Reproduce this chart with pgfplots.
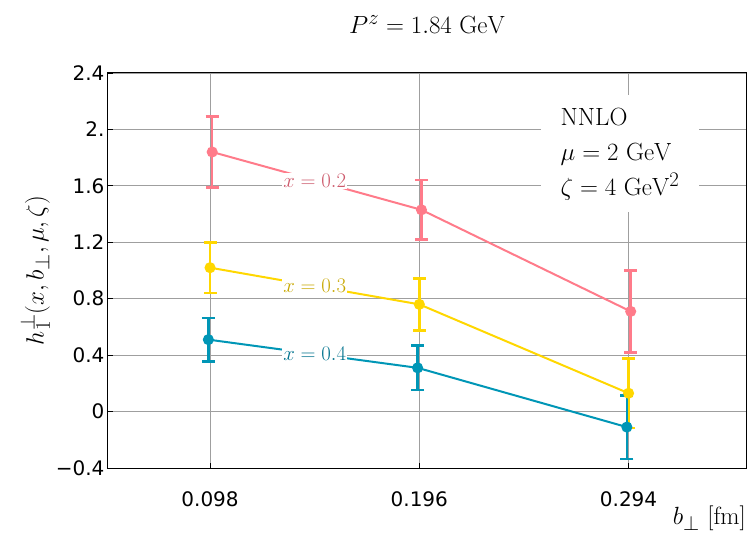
\documentclass[border=0pt]{standalone}
\usepackage{fontspec}
\usepackage{pgfplots}
\pgfplotsset{compat=1.18}
\newfontfamily\dejavu{DejaVu Sans}
\definecolor{cpink}{RGB}{255,123,138}
\definecolor{cyel}{RGB}{255,215,0}
\definecolor{cblue}{RGB}{0,150,182}
\definecolor{lpink}{RGB}{205,90,108}
\definecolor{lyel}{RGB}{200,168,0}
\definecolor{lblue}{RGB}{0,115,142}
\pgfplotsset{base/.style={
  at={(0,0)}, anchor=south west, scale only axis,
  width=638pt, height=395pt,
  xmin=0.0502, xmax=0.349, ymin=-0.4, ymax=2.4}}
\begin{document}
\begin{tikzpicture}
\path[use as bounding box] (-108pt,-73pt) rectangle (639pt,468pt);
\begin{axis}[base,
  xtick={0.098,0.196,0.294}, xticklabels={0.098,0.196,0.294},
  ytick={-0.4,0,0.4,0.8,1.2,1.6,2.0,2.4},
  yticklabels={{\char"2212 0.4},0,0.4,0.8,1.2,1.6,{2.},2.4},
  tick align=inside, xtick pos=left, ytick pos=left,
  major tick length=5pt,
  tick style={black, line width=0.8pt},
  grid=major, major grid style={color=gray!75, line width=0.8pt},
  axis line style={line width=1pt},
  tick label style={font=\dejavu\fontsize{20}{24}\selectfont},
  xticklabel style={yshift=-20pt},
]
\end{axis}
\begin{axis}[base, hide axis, clip=false]
\addplot[cpink, line width=2pt, mark=*, mark size=4.5pt,
  error bars/.cd, y dir=both, y explicit,
  error bar style={line width=2.5pt},
  error mark options={rotate=90, mark size=6.5pt, line width=2.5pt, cpink}]
  coordinates {(0.0990,1.84) +- (0,0.25) (0.1970,1.43) +- (0,0.21) (0.2950,0.71) +- (0,0.29)};
\addplot[cyel, line width=2pt, mark=*, mark size=4.5pt,
  error bars/.cd, y dir=both, y explicit,
  error bar style={line width=2.5pt},
  error mark options={rotate=90, mark size=6.5pt, line width=2.5pt, cyel}]
  coordinates {(0.098,1.02) +- (0,0.18) (0.196,0.76) +- (0,0.185) (0.294,0.13) +- (0,0.245)};
\addplot[cblue, line width=2pt, mark=*, mark size=4.5pt,
  error bars/.cd, y dir=both, y explicit,
  error bar style={line width=2.5pt},
  error mark options={rotate=90, mark size=6.5pt, line width=2.5pt, cblue}]
  coordinates {(0.0972,0.51) +- (0,0.155) (0.1952,0.31) +- (0,0.157) (0.2932,-0.11) +- (0,0.225)};
\end{axis}
\node[fill=white, inner sep=1pt, text=lpink, font=\fontsize{20.74}{25}\selectfont]
  at (206.7pt,287.1pt) {$x=0.2$};
\node[fill=white, inner sep=1pt, text=lyel, font=\fontsize{20.74}{25}\selectfont]
  at (206.7pt,182.0pt) {$x=0.3$};
\node[fill=white, inner sep=1pt, text=lblue, font=\fontsize{20.74}{25}\selectfont]
  at (206.7pt,114.3pt) {$x=0.4$};
\node[fill=white, inner xsep=20pt, inner ysep=6pt, font=\fontsize{24.88}{35}\selectfont]
  at (512pt,314.4pt)
  {\begin{tabular}{@{}l@{}}NNLO\\ $\mu=2\ \mathrm{GeV}$\\ $\zeta=4\ \mathrm{GeV}^2$\end{tabular}};
\node[font=\fontsize{24.88}{28}\selectfont] at (319pt,443pt) {$P^z=1.84\ \mathrm{GeV}$};
\node[font=\fontsize{24.88}{28}\selectfont, rotate=90] at (-73pt,197.5pt)
  {$h_1^{\perp}(x, b_{\perp}, \mu, \zeta)$};
\node[font=\fontsize{24.88}{28}\selectfont, anchor=north east, inner sep=0pt]
  at (638pt,-38pt) {$b_{\perp}\ [\mathrm{fm}]$};
\end{tikzpicture}
\end{document}
